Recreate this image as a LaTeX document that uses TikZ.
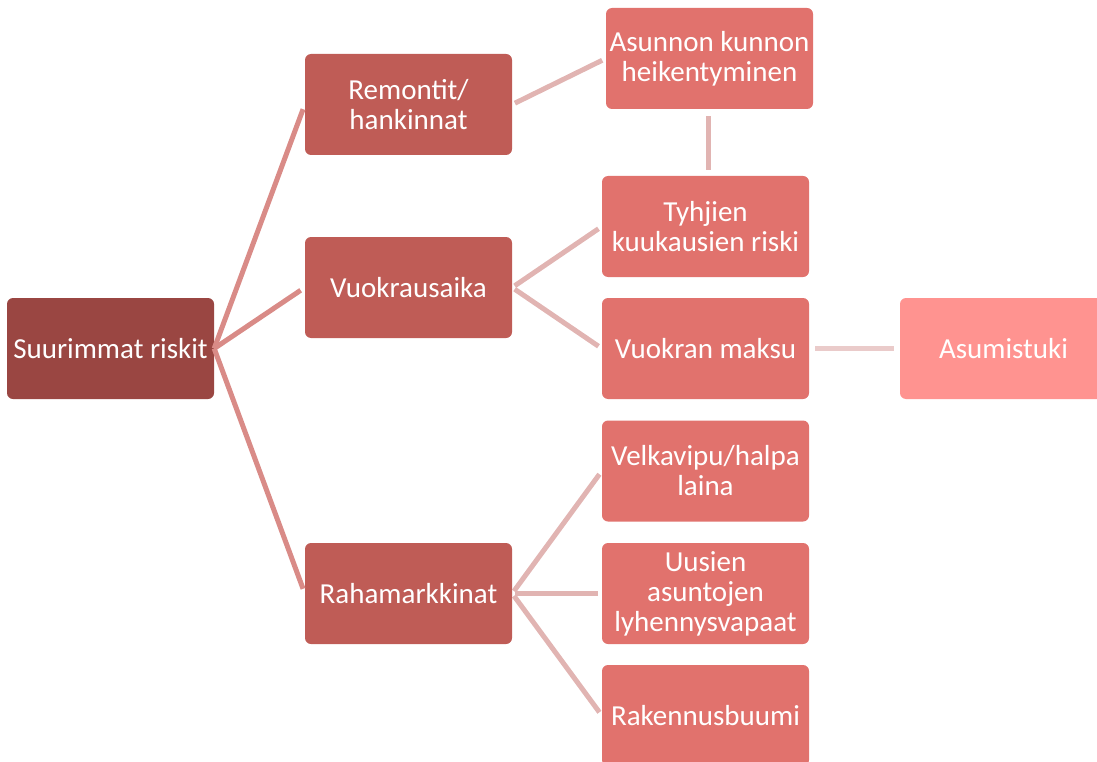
\documentclass[tikz,border=0pt]{standalone}
\usepackage{fontspec}
\setmainfont{Carlito}

\definecolor{rootred}{HTML}{9A4642}
\definecolor{midred}{HTML}{BF5C56}
\definecolor{leafred}{HTML}{E1726D}
\definecolor{pinkred}{HTML}{FF9390}
\definecolor{linedark}{HTML}{D98B87}
\definecolor{linelight}{HTML}{E1B4B2}
\definecolor{linepale}{HTML}{EACBCA}

\begin{document}
\begin{tikzpicture}[x = 1pt, y = -1pt,
	box/.style = {rounded corners = 6pt, minimum width = 207pt, minimum height = 101pt, inner sep = 0pt,
		align = center, text = white, font = \fontsize{29}{30}\selectfont},
	rootbox/.style = {box, fill = rootred},
	midbox/.style = {box, fill = midred},
	leafbox/.style = {box, fill = leafred},
	tipbox/.style = {box, fill = pinkred},
	link/.style = {line width = 5pt, shorten >= 5pt},
	sublink/.style = {line width = 5pt, linelight, shorten <= 3pt, shorten >= 4pt}]

	\useasboundingbox (0, 0) rectangle (1097, 762);

	\begin{scope}
		\clip (0, 0) rectangle (1097, 762);

		\node [rootbox] (root) at (110.5, 348.5) {Suurimmat riskit};

		\node [midbox] (remontit) at (408.5, 104.5) {Remontit/\\hankinnat};
		\node [midbox] (vuokraus) at (408.5, 287.5) {Vuokrausaika};
		\node [midbox] (raha) at (408.5, 593.5) {Rahamarkkinat};

		\node [leafbox] (kunto) at (709.5, 58.5) {Asunnon kunnon\\heikentyminen};
		\node [leafbox] (tyhjat) at (705.5, 226.5) {Tyhjien\\kuukausien riski};
		\node [leafbox] (maksu) at (705.5, 348.5) {Vuokran maksu};
		\node [leafbox] (velka) at (705.5, 471) {Velkavipu/halpa\\laina};
		\node [leafbox] (uudet) at (705.5, 593.5) {Uusien\\asuntojen\\lyhennysvapaat};
		\node [leafbox] (buumi) at (705.5, 715.5) {Rakennusbuumi};

		\node [tipbox] (tuki) at (1003.5, 348.5) {Asumistuki};

		\begin{scope}[linedark]
			\draw [link] (root.east) -- (remontit.west);
			\draw [link] (root.east) -- (vuokraus.west);
			\draw [link] (root.east) -- (raha.west);
		\end{scope}

		\draw [sublink] (remontit.east) -- (kunto.west);
		\draw [sublink] (vuokraus.east) -- (tyhjat.west);
		\draw [sublink] (vuokraus.east) -- (maksu.west);
		\draw [sublink] (raha.east) -- (velka.west);
		\draw [sublink] (raha.east) -- (uudet.west);
		\draw [sublink] (raha.east) -- (buumi.west);

		\draw [sublink, shorten <= 7pt, shorten >= 6pt] ([xshift = -1.5pt] kunto.south) -- ([xshift = 2.5pt] tyhjat.north);
		\draw [sublink, linepale, shorten <= 6pt, shorten >= 6pt] (maksu.east) -- (tuki.west);
	\end{scope}

\end{tikzpicture}
\end{document}
